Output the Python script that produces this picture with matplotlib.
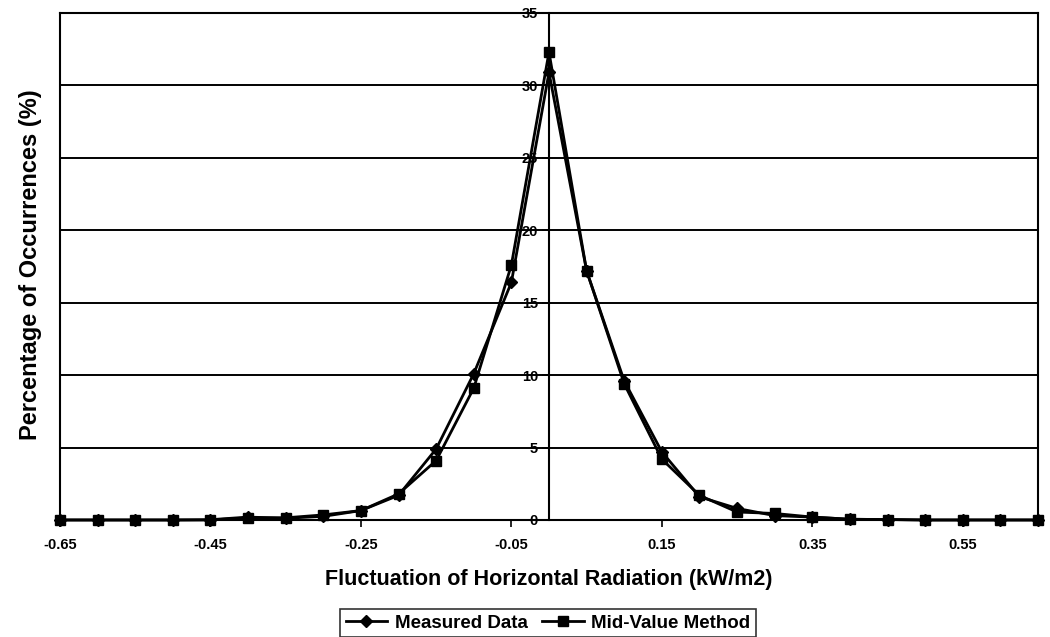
import matplotlib.pyplot as plt
import numpy as np

plt.rcParams['font.family'] = 'Liberation Sans'
plt.rcParams['font.weight'] = 'bold'

# bin centres of the radiation fluctuation (kW/m2)
x = [-0.65, -0.60, -0.55, -0.50, -0.45, -0.40, -0.35, -0.30, -0.25, -0.20, -0.15, -0.10, -0.05,
     0.00, 0.05, 0.10, 0.15, 0.20, 0.25, 0.30, 0.35, 0.40, 0.45, 0.50, 0.55, 0.60, 0.65]

# percentage of occurrences
measured = [0.0, 0.0, 0.0, 0.0, 0.02, 0.2, 0.12, 0.25, 0.65, 1.7, 4.9, 10.1, 16.4,
            30.9, 17.2, 9.6, 4.7, 1.6, 0.8, 0.3, 0.2, 0.05, 0.03, 0.0, 0.0, 0.0, 0.0]
mid_value = [0.0, 0.0, 0.0, 0.0, 0.0, 0.15, 0.15, 0.35, 0.65, 1.8, 4.1, 9.1, 17.6,
             32.3, 17.2, 9.4, 4.2, 1.7, 0.55, 0.45, 0.2, 0.05, 0.03, 0.0, 0.0, 0.0, 0.0]

xtick_vals = [-0.65, -0.45, -0.25, -0.05, 0.15, 0.35, 0.55]
xtick_labels = ['-0.65', '-0.45', '-0.25', '-0.05', '0.15', '0.35', '0.55']
ytick_vals = [0, 5, 10, 15, 20, 25, 30, 35]

fig = plt.figure(figsize=(10.5, 6.37), dpi=100)
ax = fig.add_axes([0.0571, 0.1837, 0.9315, 0.7959])

# horizontal gridlines
for yv in ytick_vals[1:]:
    ax.axhline(yv, color='black', lw=1.4, zorder=1)

ax.plot(x, measured, color='black', lw=2, marker='D', markersize=6.5,
        markerfacecolor='black', markeredgecolor='black', label='Measured Data', zorder=3,
        clip_on=False)
ax.plot(x, mid_value, color='black', lw=2, marker='s', markersize=7.5,
        markerfacecolor='black', markeredgecolor='black', label='Mid-Value Method', zorder=3,
        clip_on=False)

ax.set_xlim(-0.65, 0.65)
ax.set_ylim(0, 35)

# y axis crosses at x = 0, frame drawn at the outer edges
ax.spines['left'].set_position(('data', 0))
ax.spines['left'].set_linewidth(1.5)
ax.axvline(-0.65, color='black', lw=1.5, clip_on=False, zorder=2)
for s in ['right', 'top', 'bottom']:
    ax.spines[s].set_linewidth(1.5)

ax.set_yticks(ytick_vals)
ax.set_yticklabels([str(v) for v in ytick_vals], fontsize=10.5, fontweight='bold')
ax.set_xticks(xtick_vals)
ax.set_xticklabels(xtick_labels, fontsize=10.5, fontweight='bold')
ax.tick_params(axis='both', direction='out', length=5, width=1.2, pad=3)
ax.tick_params(axis='x', pad=8)

ax.set_xlabel('Fluctuation of Horizontal Radiation (kW/m2)', fontsize=15.5, fontweight='bold',
              labelpad=12)
fig.text(0.029, 0.584, 'Percentage of Occurrences (%)', rotation=90, fontsize=17,
         fontweight='bold', ha='center', va='center')

leg = fig.legend(loc='center', bbox_to_anchor=(0.522, 0.022), ncol=2, frameon=True,
                 fancybox=False, edgecolor='black', fontsize=13.5, handlelength=2.2,
                 columnspacing=0.8, handletextpad=0.4, borderpad=0.3)
leg.get_frame().set_linewidth(1.2)
for t in leg.get_texts():
    t.set_fontweight('bold')

fig.savefig('out.png', dpi=100, facecolor='white')
